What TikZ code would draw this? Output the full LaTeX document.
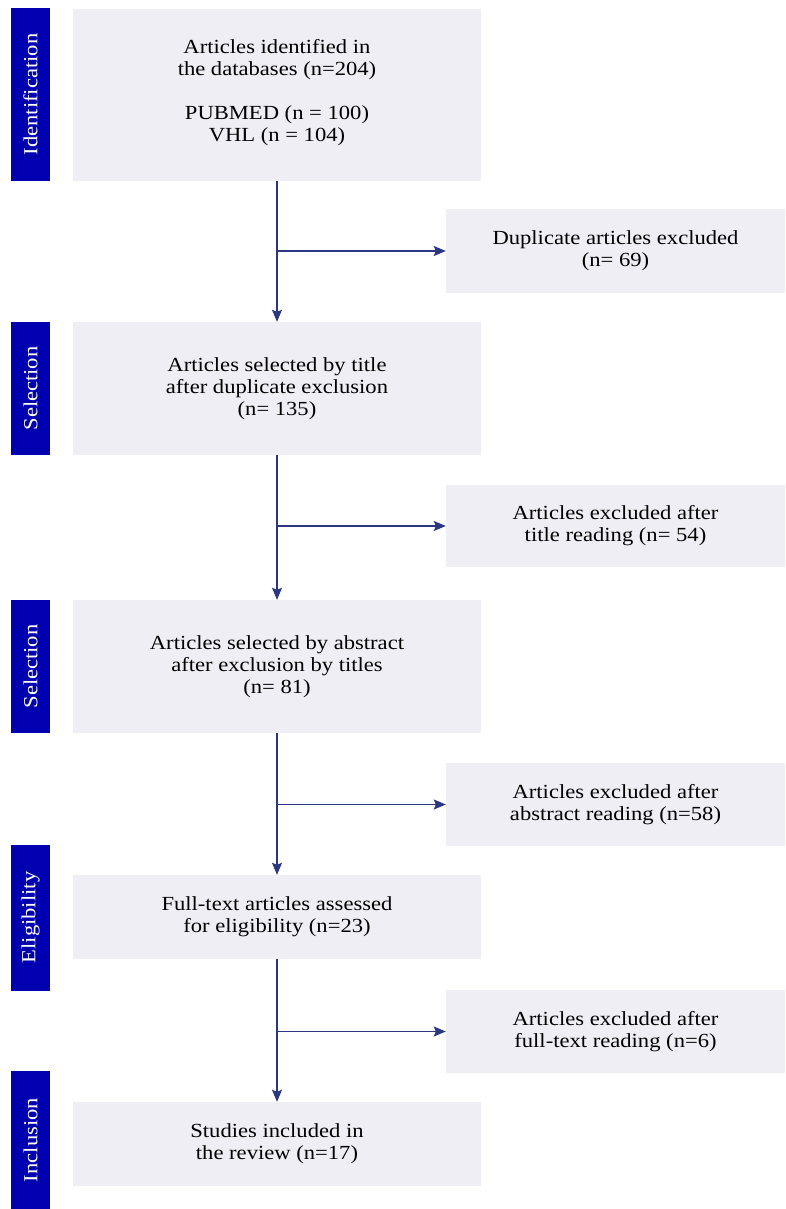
\documentclass[tikz,border=0pt]{standalone}
\usepackage{fontspec}
\setmainfont{Liberation Serif}[FakeStretch=1.13]
\usetikzlibrary{arrows.meta,positioning}
\definecolor{barblue}{RGB}{0,0,176}
\definecolor{boxgray}{RGB}{239,238,244}
\definecolor{linenavy}{RGB}{44,55,130}
\tikzset{
  stage/.style={fill=barblue,text=white,rotate=90,minimum height=39pt,inner sep=0pt,font=\fontsize{20}{22}\selectfont},
  mainbox/.style={fill=boxgray,minimum width=408pt,inner sep=0pt,align=center,font=\fontsize{20}{22}\selectfont},
  sidebox/.style={fill=boxgray,minimum width=339pt,inner sep=0pt,align=center,font=\fontsize{20}{22}\selectfont},
  flow/.style={draw=linenavy,line width=1.2pt,-{Stealth[length=12pt,width=10pt,inset=2pt]}}
}

\begin{document}
\begin{tikzpicture}[x=1pt,y=-1pt]
  \useasboundingbox (0,0) rectangle (785,1209);
  \node[stage,minimum width=173pt] (l1) at (30.5,94.5) {Identification};
  \node[stage,minimum width=133pt] (l2) at (30.5,388.5) {Selection};
  \node[stage,minimum width=133pt] (l3) at (30.5,666.5) {Selection};
  \node[stage,minimum width=146pt] (l4) at (30.5,917.5) {Eligibility};
  \node[stage,minimum width=138pt] (l5) at (30.5,1140) {Inclusion};

  \node[mainbox,minimum height=172pt] (b1) at (277,95) {Articles identified in\\the databases (n=204)\\[22pt]PUBMED (n = 100)\\VHL (n = 104)\\[-12pt]};
  \node[mainbox,minimum height=133pt] (b2) at (277,388.5) {Articles selected by title\\after duplicate exclusion\\(n= 135)};
  \node[mainbox,minimum height=133pt] (b3) at (277,666.5) {Articles selected by abstract\\after exclusion by titles\\(n= 81)};
  \node[mainbox,minimum height=84pt] (b4) at (277,917) {Full-text articles assessed\\for eligibility (n=23)};
  \node[mainbox,minimum height=84pt] (b5) at (277,1144) {Studies included in\\the review (n=17)};

  \node[sidebox,minimum height=84pt] (s1) at (615.5,251) {Duplicate articles excluded\\(n= 69)};
  \node[sidebox,minimum height=82pt] (s2) at (615.5,526) {Articles excluded after\\title reading (n= 54)};
  \node[sidebox,minimum height=83pt] (s3) at (615.5,804.5) {Articles excluded after\\abstract reading (n=58)};
  \node[sidebox,minimum height=83pt] (s4) at (615.5,1031.5) {Articles excluded after\\full-text reading (n=6)};

  \draw[flow] (b1) -- (b2);
  \draw[flow] (b2) -- (b3);
  \draw[flow] (b3) -- (b4);
  \draw[flow] (b4) -- (b5);
  \draw[flow] (b1 |- s1) -- (s1);
  \draw[flow] (b2 |- s2) -- (s2);
  \draw[flow] (b3 |- s3) -- (s3);
  \draw[flow] (b4 |- s4) -- (s4);
\end{tikzpicture}
\end{document}
